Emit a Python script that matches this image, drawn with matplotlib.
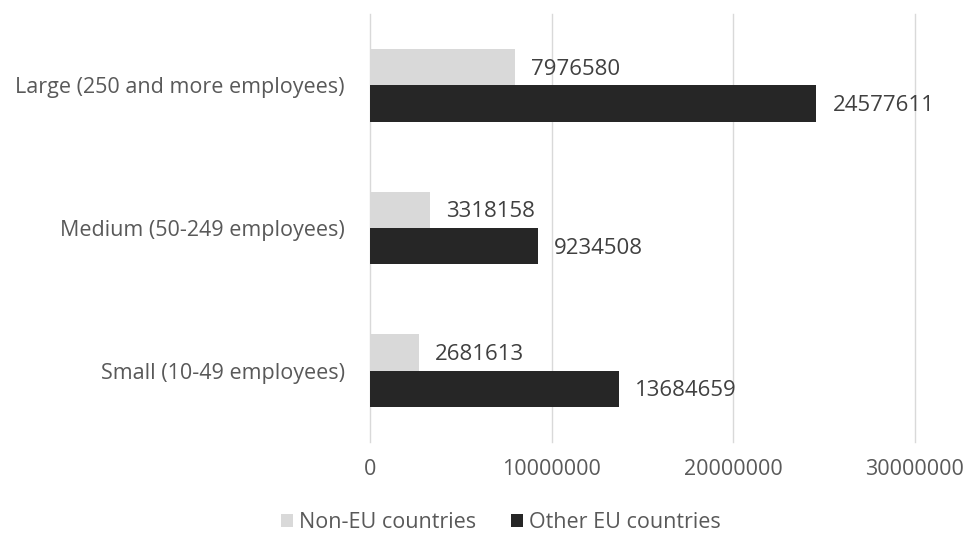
import matplotlib
matplotlib.use("Agg")
import matplotlib.pyplot as plt
import numpy as np

categories = ["Small (10-49 employees)", "Medium (50-249 employees)", "Large (250 and more employees)"]
non_eu = [2681613, 3318158, 7976580]
other_eu = [13684659, 9234508, 24577611]
series_names = ["Non-EU countries", "Other EU countries"]
xticks = [0, 10000000, 20000000, 30000000]

plt.rcParams['font.family'] = ['Open Sans', 'DejaVu Sans']
txt = '#595959'

fig = plt.figure(figsize=(9.7, 5.33), dpi=100)
ax = fig.add_axes([370/970, 1-442/533, 545/970, 428/533])

y = np.arange(len(categories))
h = 0.255
b1 = ax.barh(y + h/2, non_eu, height=h, color='#d9d9d9', label=series_names[0])
b2 = ax.barh(y - h/2, other_eu, height=h, color='#262626', label=series_names[1])

for bars, vals in [(b1, non_eu), (b2, other_eu)]:
    for r, v in zip(bars, vals):
        ax.annotate(f"{v}", (r.get_width(), r.get_y() + r.get_height()/2),
                    xytext=(16, -2), textcoords='offset pixels',
                    va='center', ha='left', fontsize=16, color='#404040')

ax.set_xlim(0, 30000000)
ax.set_ylim(-0.5, 2.5)
ax.set_xticks(xticks)
ax.set_xticklabels([str(t) for t in xticks])
ax.set_yticks(y)
ax.set_yticklabels(categories)
ax.tick_params(axis='both', length=0, colors=txt)
ax.tick_params(axis='x', pad=12, labelsize=15.5)
ax.tick_params(axis='y', pad=18, labelsize=15.5)
for s in ax.spines.values():
    s.set_visible(False)
ax.grid(axis='x', color='#d9d9d9', linewidth=1)
for gl in ax.xaxis.get_gridlines():
    gl.set_clip_on(False)
ax.set_axisbelow(True)

leg = fig.legend(loc='center', bbox_to_anchor=(501/970, 1-523/533), ncol=2, frameon=False,
                 fontsize=15.5, handlelength=0.55, handleheight=0.55, handletextpad=0.3,
                 columnspacing=1.6, labelcolor=txt)

fig.savefig("out.png", dpi=100)
